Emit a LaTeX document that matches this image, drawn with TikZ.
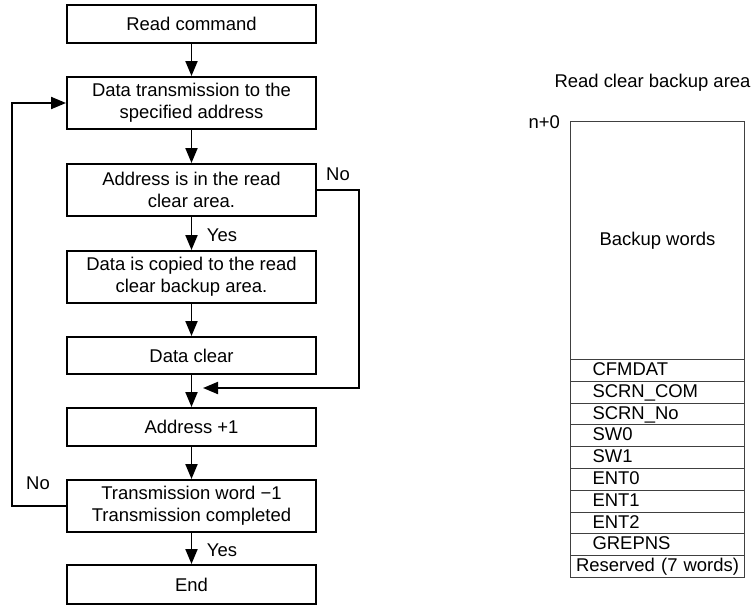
\documentclass[tikz,border=0pt]{standalone}
\usepackage{fontspec}
\setmainfont{Liberation Sans}
\usetikzlibrary{arrows.meta}

\begin{document}
\begin{tikzpicture}[
      every node/.style={font=\fontsize{10.5}{12.5}\selectfont},
      flowbox/.style={draw, line width=1.1pt, minimum width=4.98cm,
          inner sep=0pt, align=center},
      arr/.style={-{Triangle[length=0.3cm, width=0.24cm]}, line width=1.1pt},
      cell/.style={draw=black!75, line width=0.6pt, anchor=north west,
          minimum height=0.436cm, text width=2.60cm, inner xsep=0.44cm,
          inner ysep=0pt, text height=8pt, text depth=2.2pt, align=left}]
    \useasboundingbox (0,0) rectangle (15.04,-12.12);
    % flow chart
    \node[flowbox, minimum height=0.76cm] (rd) at (3.83,-0.48) {Read command};
    \node[flowbox, minimum height=1.04cm] (tx) at (3.83,-2.06) {Data transmission to the\\specified address};
    \node[flowbox, minimum height=1.04cm] (chk) at (3.83,-3.80) {Address is in the read\\clear area.};
    \node[flowbox, minimum height=1.04cm] (cpy) at (3.83,-5.54) {Data is copied to the read\\clear backup area.};
    \node[flowbox, minimum height=0.74cm] (dclr) at (3.83,-7.11) {Data clear};
    \node[flowbox, minimum height=0.76cm] (addr) at (3.83,-8.54) {Address +1};
    \node[flowbox, minimum height=1.04cm] (cnt) at (3.83,-10.12) {Transmission word −1\\Transmission completed};
    \node[flowbox, minimum height=0.78cm] (fin) at (3.83,-11.69) {End};
    \coordinate (mg) at (4.06,-7.76);
    \coordinate (nr) at (7.18,-7.76);
    \coordinate (lp) at (0.24,0);
    \draw[arr] (rd) -- (tx);
    \draw[arr] (tx) -- (chk);
    \draw[arr] (chk) -- (cpy);
    \draw[arr] (cpy) -- (dclr);
    \draw[arr] (dclr) -- (addr);
    \draw[arr] (addr) -- (cnt);
    \draw[arr] (cnt) -- (fin);
    \draw[arr] (chk.east) -| (nr) -- (mg);
    \draw[arr] (cnt.west) -- (cnt.west -| lp) -- (tx.west -| lp) -- (tx.west);
    \node (yes1) at (4.44,-4.70) {Yes};
    \node (yes2) at (4.44,-11.00) {Yes};
    \node (no1) at (6.76,-3.48) {No};
    \node (no2) at (0.76,-9.66) {No};
    % backup area
    \node (ttl) at (13.05,-1.66) {Read clear backup area};
    \node[anchor=east] (n0) at (11.32,-2.44) {n+0};
    \node[draw=black!75, line width=0.6pt, anchor=north west, minimum width=3.48cm,
          minimum height=4.76cm, inner sep=0pt] (bkw) at (11.40,-2.42) {Backup words};
    \foreach \nm [count=\i from 0] in {CFMDAT, SCRN\_COM, SCRN\_No, SW0, SW1, ENT0, ENT1, ENT2, GREPNS}
      \node[cell] (c\i) at (11.40,-7.18-\i*0.436) {\nm};
    \node[cell, text width=3.48cm, inner xsep=0pt, align=center] (rsv) at (11.40,-7.18-9*0.436) {Reserved (7 words)};
  \end{tikzpicture}
\end{document}
